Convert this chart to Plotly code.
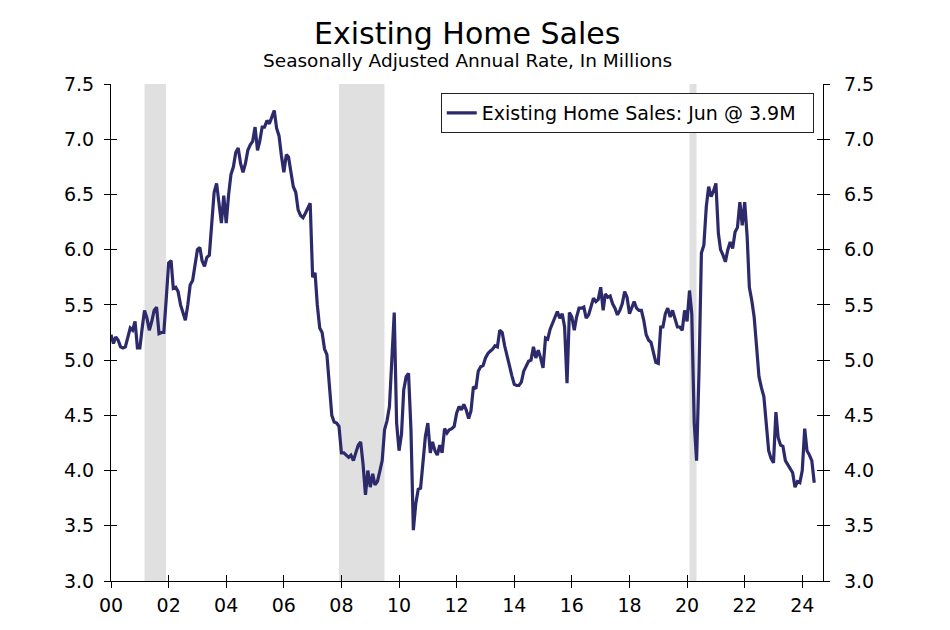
import pandas as pd
import plotly.graph_objects as go

# Existing home sales, SAAR, millions (monthly, Jan 2000 - Jun 2024)
y2000 = [5.23, 5.15, 5.21, 5.18, 5.12, 5.11, 5.12, 5.22, 5.29, 5.27, 5.35, 5.11]
y2001 = [5.11, 5.30, 5.45, 5.38, 5.27, 5.35, 5.45, 5.48, 5.24, 5.25, 5.25, 5.55]
y2002 = [5.88, 5.90, 5.65, 5.66, 5.62, 5.50, 5.42, 5.36, 5.50, 5.68, 5.72, 5.88]
y2003 = [6.00, 6.02, 5.90, 5.85, 5.93, 5.95, 6.25, 6.52, 6.60, 6.40, 6.24, 6.49]
y2004 = [6.24, 6.50, 6.68, 6.75, 6.88, 6.92, 6.78, 6.70, 6.78, 6.90, 6.95, 6.98]
y2005 = [7.11, 6.90, 6.98, 7.11, 7.11, 7.17, 7.14, 7.20, 7.26, 7.10, 7.03, 6.85]
y2006 = [6.70, 6.86, 6.84, 6.70, 6.57, 6.52, 6.36, 6.31, 6.29, 6.33, 6.38, 6.42]
y2007 = [5.75, 5.79, 5.50, 5.29, 5.25, 5.10, 5.05, 4.80, 4.50, 4.44, 4.43, 4.40]
y2008 = [4.16, 4.16, 4.14, 4.12, 4.14, 4.09, 4.16, 4.23, 4.26, 4.06, 3.78, 4.00]
y2009 = [3.85, 3.97, 3.87, 3.90, 3.99, 4.09, 4.37, 4.45, 4.58, 5.00, 5.43, 4.43]
y2010 = [4.18, 4.33, 4.73, 4.85, 4.88, 4.37, 3.46, 3.70, 3.83, 3.84, 4.09, 4.31]
y2011 = [4.43, 4.16, 4.26, 4.18, 4.14, 4.23, 4.16, 4.38, 4.34, 4.37, 4.38, 4.40]
y2012 = [4.52, 4.58, 4.55, 4.60, 4.55, 4.47, 4.54, 4.76, 4.74, 4.90, 4.94, 4.95]
y2013 = [5.02, 5.06, 5.08, 5.10, 5.13, 5.12, 5.27, 5.25, 5.13, 5.03, 4.93, 4.86]
y2014 = [4.78, 4.77, 4.77, 4.80, 4.90, 4.95, 4.99, 5.00, 5.12, 5.02, 5.09, 5.02]
y2015 = [4.93, 5.20, 5.19, 5.28, 5.33, 5.38, 5.44, 5.38, 5.42, 5.30, 4.79, 5.43]
y2016 = [5.39, 5.27, 5.39, 5.47, 5.47, 5.48, 5.38, 5.41, 5.50, 5.56, 5.53, 5.55]
y2017 = [5.66, 5.45, 5.60, 5.57, 5.58, 5.51, 5.47, 5.41, 5.45, 5.51, 5.62, 5.57]
y2018 = [5.42, 5.48, 5.53, 5.47, 5.45, 5.45, 5.36, 5.23, 5.18, 5.16, 5.05, 4.98]
y2019 = [4.97, 5.30, 5.30, 5.42, 5.47, 5.39, 5.45, 5.38, 5.30, 5.30, 5.27, 5.45]
y2020 = [5.35, 5.63, 5.42, 4.43, 4.09, 4.91, 5.97, 6.04, 6.39, 6.57, 6.48, 6.53]
y2021 = [6.60, 6.15, 6.00, 5.95, 5.89, 6.00, 6.07, 6.01, 6.16, 6.20, 6.43, 6.22]
y2022 = [6.43, 6.12, 5.66, 5.54, 5.39, 5.12, 4.85, 4.75, 4.67, 4.43, 4.18, 4.11]
y2023 = [4.07, 4.53, 4.30, 4.23, 4.22, 4.09, 4.05, 4.02, 3.98, 3.85, 3.90, 3.89]
y2024 = [4.00, 4.38, 4.18, 4.14, 4.09, 3.89]

sales = (y2000 + y2001 + y2002 + y2003 + y2004 + y2005 + y2006 + y2007 + y2008
         + y2009 + y2010 + y2011 + y2012 + y2013 + y2014 + y2015 + y2016 + y2017
         + y2018 + y2019 + y2020 + y2021 + y2022 + y2023 + y2024)
start_month = "2000-01-01"
dates = pd.date_range(start_month, periods=len(sales), freq="MS")

recession_starts = ["2001-03-01", "2007-12-01", "2020-02-01"]
recession_ends = ["2001-11-30", "2009-06-30", "2020-04-30"]

y_ticks = [3.0, 3.5, 4.0, 4.5, 5.0, 5.5, 6.0, 6.5, 7.0, 7.5]
x_tick_years = list(range(2000, 2025, 2))
x_tick_vals = [f"{yr}-01-01" for yr in x_tick_years]
x_tick_text = [f"{yr % 100:02d}" for yr in x_tick_years]

title_text = "Existing Home Sales"
subtitle_text = "Seasonally Adjusted Annual Rate, In Millions"
legend_text = "Existing Home Sales: Jun @ 3.9M"

LINE = "#2D2A6B"
FONT = "DejaVu Sans"
X_RANGE = ["2000-01-01", "2024-09-20"]
Y_RANGE = [3.0, 7.5]

fig = go.Figure()
fig.add_trace(go.Scatter(x=dates, y=sales, mode="lines",
                         name=legend_text + "\u00a0\u00a0",
                         line=dict(color=LINE, width=3.2)))
# invisible helper traces so that overlay axes are drawn (crossing ticks)
for xa, ya in [("x2", "y3"), ("x", "y2"), ("x", "y4")]:
    fig.add_trace(go.Scatter(x=dates, y=sales, mode="lines", xaxis=xa, yaxis=ya,
                             line=dict(width=0, color="rgba(0,0,0,0)"),
                             showlegend=False, hoverinfo="skip"))

for s, e in zip(recession_starts, recession_ends):
    fig.add_shape(type="rect", xref="x", yref="paper", x0=s, x1=e, y0=0, y1=1,
                  fillcolor="#E0E0E0", line=dict(width=0), layer="below")

axis_common = dict(showgrid=False, zeroline=False, linecolor="black", linewidth=1.2,
                   tickcolor="black", tickwidth=1.2, ticklen=6,
                   tickfont=dict(size=19, family=FONT, color="black"))
yaxis_common = dict(axis_common, range=Y_RANGE, tickvals=y_ticks, tickformat=".1f")
xaxis_common = dict(axis_common, range=X_RANGE, type="date",
                    tickvals=x_tick_vals, ticktext=x_tick_text)

fig.update_layout(
    width=950, height=630,
    margin=dict(l=103, r=135, t=76, b=57),
    paper_bgcolor="white", plot_bgcolor="white",
    font=dict(family=FONT, size=17, color="black"),
    showlegend=True,
    legend=dict(x=0.987, y=0.982, xanchor="right", yanchor="top",
                bgcolor="white", bordercolor="#222222", borderwidth=1,
                font=dict(size=19, family=FONT), itemwidth=30),
    xaxis=dict(xaxis_common, showline=True, ticks="outside", ticklabelstandoff=1),
    xaxis2=dict(xaxis_common, overlaying="x", anchor="y", side="bottom",
                showline=False, ticks="inside", showticklabels=False),
    yaxis=dict(yaxis_common, showline=True, ticks="outside", side="left",
               ticklabelstandoff=6),
    yaxis2=dict(yaxis_common, showline=True, ticks="outside", side="right",
                overlaying="y", anchor="x", ticklabelstandoff=10),
    yaxis3=dict(yaxis_common, showline=False, ticks="inside", side="left",
                overlaying="y", anchor="x", showticklabels=False),
    yaxis4=dict(yaxis_common, showline=False, ticks="inside", side="right",
                overlaying="y", anchor="x", showticklabels=False),
    annotations=[
        dict(text=title_text, xref="paper", yref="paper", x=0.5, y=1.1026,
             xanchor="center", yanchor="middle", showarrow=False,
             font=dict(size=30, family=FONT, color="black")),
        dict(text=subtitle_text, xref="paper", yref="paper", x=0.5, y=1.0463,
             xanchor="center", yanchor="middle", showarrow=False,
             font=dict(size=18.5, family=FONT, color="black")),
    ],
)

fig.write_html("out.html")
